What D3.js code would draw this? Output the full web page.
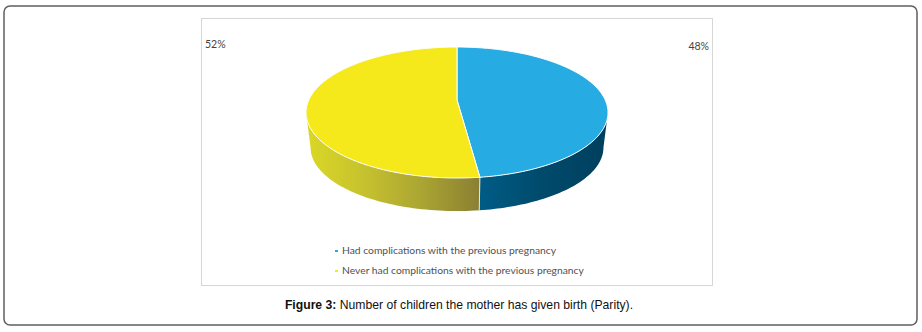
<!DOCTYPE html>
<html>
<head>
<meta charset="utf-8">
<style>
html,body{margin:0;padding:0;background:#fff;}
svg{display:block;}
</style>
</head>
<body>
<script src="https://d3js.org/d3.v7.min.js"></script>
<svg id="chart" width="922" height="332"></svg>
<script>
const categories = ["Had complications with the previous pregnancy", "Never had complications with the previous pregnancy"]
const values = [48, 52]
const percentLabels = ["48%", "52%"]

const topColors = ["#27abe3", "#f5e91b"]
const wallStops = [["#005c86", "#004a6b", "#003f5e"], ["#dbd826", "#c6c22e", "#aaa532", "#8a7f33"]]

const svg = d3.select("#chart")

// page frame and chart box
svg.append("rect").attr("x",4).attr("y",6).attr("width",913).attr("height",319).attr("rx",6)
    .style("fill","white").style("stroke","#5f5f5f").style("stroke-width",1.5)
svg.append("rect").attr("x",201.5).attr("y",18.5).attr("width",511).attr("height",267)
    .style("fill","white").style("stroke","#d6d6d6")

// tilted disc: unit circle seen in perspective
const cx = 457, cy = 100, a = 148.2, b = 63.1, k = 0.191
const wallScale = 0.97, wallDrop = 35, rimMidY = 112.5
const project = t => {
    const u = Math.sin(t), v = Math.cos(t), w = 1 + k * v
    return [cx + a * u / w, cy - b * v / w]
}
const projectBottom = t => {
    const p = project(t)
    return [cx + wallScale * (p[0] - cx), rimMidY + wallScale * (p[1] - rimMidY) + wallDrop]
}
const sweep = (t0, t1, n) => d3.range(n + 1).map(i => t0 + (t1 - t0) * i / n)
const line = d3.line()

const pie = d3.pie().sort(null)(values)
const frontStart = Math.acos(-k), frontEnd = 2 * Math.PI - frontStart

const defs = svg.append("defs")
wallStops.forEach((stops, i) => {
    const g = defs.append("linearGradient").attr("id","wall"+i)
    stops.forEach((c, j) => g.append("stop").attr("offset", j / (stops.length - 1)).attr("stop-color", c))
})

// walls first, then the top
pie.forEach((d, i) => {
    const t0 = Math.max(d.startAngle, frontStart), t1 = Math.min(d.endAngle, frontEnd)
    const angles = sweep(t0, t1, 60)
    const pts = angles.map(project).concat(angles.slice().reverse().map(projectBottom))
    svg.append("path").attr("d", line(pts) + "Z")
        .style("fill", "url(#wall"+i+")")
})
const seam = pie[0].endAngle
svg.append("line")
    .attr("x1", project(seam)[0]).attr("y1", project(seam)[1])
    .attr("x2", projectBottom(seam)[0]).attr("y2", projectBottom(seam)[1])
    .style("stroke","#e8e8e0").style("stroke-width",1)

pie.forEach((d, i) => {
    const pts = [[cx, cy]].concat(sweep(d.startAngle, d.endAngle, 160).map(project))
    svg.append("path").attr("d", line(pts) + "Z")
        .style("fill", topColors[i])
        .style("stroke","white").style("stroke-width",1).style("stroke-linejoin","round")
})

// percent labels
const labelPos = [[709,50],[205,48]]
percentLabels.forEach((t, i) => {
    svg.append("text").attr("x", labelPos[i][0]).attr("y", labelPos[i][1])
        .attr("text-anchor", i == 0 ? "end" : "start")
        .style("font-family","Lato").style("font-size","10.5px").style("fill","#444")
        .text(t)
})

// legend
const legendY = d3.scalePoint().domain(categories).range([254,274])
categories.forEach((c, i) => {
    svg.append("rect").attr("x",335).attr("y",legendY(c)-4).attr("width",3).attr("height",2)
        .style("fill", topColors[i])
    svg.append("text").attr("x",342).attr("y",legendY(c))
        .style("font-family","Lato").style("font-size","10.3px").style("fill","#505050")
        .text(c)
})

// caption
const caption = svg.append("text").attr("x",459).attr("y",309).attr("text-anchor","middle")
    .style("font-family","Liberation Sans").style("font-size","12.2px").style("fill","#111")
caption.append("tspan").style("font-weight","bold").text("Figure 3:")
caption.append("tspan").text(" Number of children the mother has given birth (Parity).")
</script>
</body>
</html>
